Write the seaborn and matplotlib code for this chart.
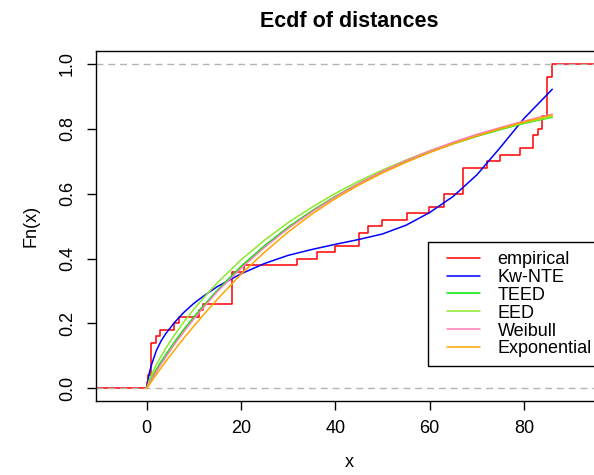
import matplotlib
matplotlib.use("Agg")
import matplotlib.pyplot as plt
import seaborn as sns
from matplotlib.lines import Line2D
from matplotlib.patches import Rectangle
from matplotlib.legend_handler import HandlerLine2D

# ---------------- data ----------------
distances = [0.15, 0.25, 0.93, 0.93, 0.93, 0.93, 0.93, 2.0, 2.9, 5.7, 6.8,
             11.1, 11.9, 18.0, 18.0, 18.0, 18.0, 18.0, 20.7, 31.9, 36.0,
             39.9, 45.0, 45.0, 46.9, 49.9, 55.1, 59.9, 63.0, 63.0, 67.0,
             67.0, 67.0, 67.0, 72.1, 75.0, 79.1, 82.0, 82.0, 83.0, 83.9,
             83.9, 84.9, 84.9, 84.9, 84.9, 84.9, 84.9, 86.0, 86.0]

grid_x = [0, 0.5, 1, 2, 3, 4, 6, 8, 10, 12, 15, 20, 25, 30, 35, 40, 45,
          50, 55, 60, 65, 70, 75, 80, 86]
kw_nte = [0.0, 0.045, 0.072, 0.115, 0.145, 0.168, 0.205, 0.236, 0.262,
          0.284, 0.314, 0.353, 0.385, 0.410, 0.428, 0.444, 0.459, 0.476,
          0.503, 0.542, 0.592, 0.658, 0.743, 0.832, 0.922]
teed = [0.0, 0.017, 0.031, 0.057, 0.081, 0.103, 0.145, 0.184, 0.220, 0.254,
        0.303, 0.376, 0.440, 0.497, 0.547, 0.592, 0.632, 0.668, 0.700,
        0.728, 0.754, 0.777, 0.798, 0.817, 0.836]
eed = [0.0, 0.024, 0.041, 0.072, 0.098, 0.123, 0.167, 0.207, 0.244, 0.278,
       0.326, 0.396, 0.457, 0.511, 0.558, 0.601, 0.639, 0.673, 0.704,
       0.732, 0.757, 0.780, 0.800, 0.818, 0.838]
weibull = [0.0, 0.014, 0.027, 0.051, 0.074, 0.096, 0.138, 0.177, 0.214,
           0.249, 0.299, 0.370, 0.435, 0.493, 0.544, 0.590, 0.632, 0.669,
           0.702, 0.732, 0.759, 0.783, 0.804, 0.824, 0.845]
exponential = [0.0, 0.011, 0.021, 0.042, 0.062, 0.082, 0.120, 0.157, 0.192,
               0.226, 0.275, 0.352, 0.420, 0.482, 0.537, 0.585, 0.627,
               0.664, 0.697, 0.727, 0.754, 0.778, 0.801, 0.821, 0.843]

series_labels = ["Kw-NTE", "TEED", "EED", "Weibull", "Exponential"]
series_values = [kw_nte, teed, eed, weibull, exponential]
series_colors = ["#0000ff", "#00e600", "#8fe82a", "#ff7ab8", "#ffa500"]

x_ticks = [0, 20, 40, 60, 80]
y_ticks = [0.0, 0.2, 0.4, 0.6, 0.8, 1.0]
x_limits = (-10.76, 96.86)
y_limits = (-0.04, 1.04)

# ---------------- style ----------------
sns.set_style("ticks")
plt.rcParams["font.family"] = ["Liberation Sans", "DejaVu Sans"]
plt.rcParams["ytick.alignment"] = "center"
plt.rcParams["text.color"] = "black"
plt.rcParams["axes.labelcolor"] = "black"

W, H = 594, 475
fig = plt.figure(figsize=(W / 100, H / 100), dpi=100)
ax = fig.add_axes([96 / W, 1 - 401.3 / H, (603.5 - 96) / W, (401.3 - 51) / H])

# empirical ECDF
sns.ecdfplot(x=distances, color="red", linewidth=1.1, label="empirical",
             ax=ax, zorder=2)
ax.hlines(0, x_limits[0], min(distances), color="red", linewidth=1.1, zorder=2)
ax.hlines(1, max(distances), x_limits[1], color="red", linewidth=1.1, zorder=2)

# reference lines at 0 and 1
for yv in (0, 1):
    ax.axhline(yv, color="#b3b3b3", linewidth=1, linestyle=(0, (5, 3.5)),
               zorder=2.5)

# fitted curves
for i, (lab, vals, col) in enumerate(zip(series_labels, series_values, series_colors)):
    sns.lineplot(x=grid_x, y=vals, color=col, linewidth=1.1, label=lab,
                 ax=ax, zorder=3 + 0.1 * i, legend=False)

ax.set_xlim(*x_limits)
ax.set_ylim(*y_limits)
ax.set_xticks(x_ticks)
ax.set_xticklabels([str(t) for t in x_ticks])
ax.set_yticks(y_ticks)
ax.set_yticklabels([f"{t:.1f}" for t in y_ticks])

for s in ax.spines.values():
    s.set_visible(True)
    s.set_color("black")
    s.set_linewidth(1.0)

ax.tick_params(axis="both", direction="out", length=6.5, width=1,
               color="black", labelsize=13, labelcolor="black")
ax.tick_params(axis="x", pad=7)
ax.tick_params(axis="y", pad=8, labelrotation=90)

ax.set_xlabel("x", fontsize=13, labelpad=12.5, color="black")
ax.set_ylabel("Fn(x)", fontsize=13, labelpad=14, color="black")
ax.set_title("Ecdf of distances", fontsize=15.5, fontweight="bold", pad=17,
             color="black")

handles, labels = ax.get_legend_handles_labels()
leg = ax.legend(handles, labels, loc="upper left",
                bbox_to_anchor=(428.3 / W, 1 - 242.3 / H),
                bbox_transform=fig.transFigure,
                borderaxespad=0, frameon=False, fontsize=13,
                handlelength=43 / 18, handletextpad=17.3 / 18,
                borderpad=0.48, labelspacing=0.05,
                handler_map={Line2D: HandlerLine2D(xpad=10 / 18)})
leg.set_zorder(10)
for t in leg.get_texts():
    t.set_color("black")

# legend frame: runs past the right edge of the canvas, as in the reference
fig.canvas.draw()
bb = leg.get_window_extent()
frame = Rectangle((bb.x0, bb.y0), W + 40 - bb.x0, bb.height, transform=None,
                  facecolor="white", edgecolor="black", linewidth=1.0,
                  zorder=9.9, clip_on=False)
ax.add_artist(frame)

fig.savefig("out.png", dpi=100)
